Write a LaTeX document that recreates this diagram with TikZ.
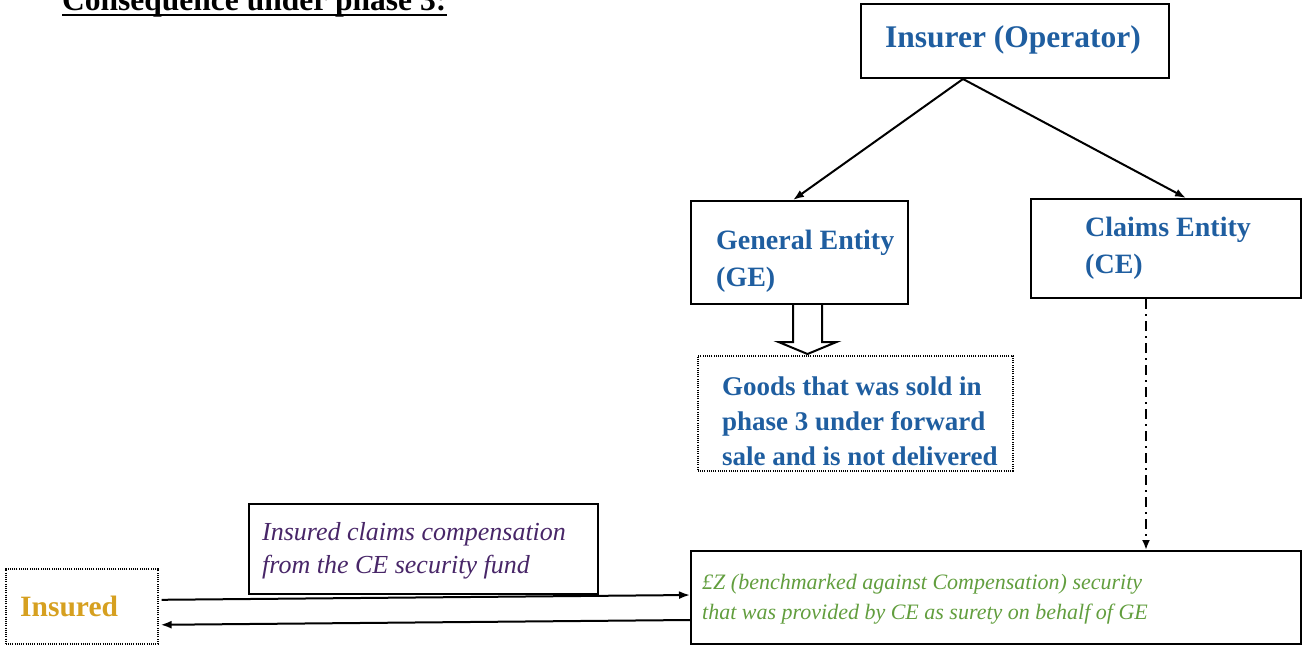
\documentclass[tikz,border=0pt]{standalone}
\usepackage{fontspec}
\setmainfont{Liberation Serif}
\usetikzlibrary{arrows.meta,calc}

\definecolor{entityblue}{RGB}{31,94,160}
\definecolor{insgold}{RGB}{214,160,32}
\definecolor{notepurple}{RGB}{72,38,104}
\definecolor{fundgreen}{RGB}{98,158,62}

\begin{document}
\begin{tikzpicture}[x=1pt,y=-1pt,
  solidbox/.style={draw, line width=2pt, inner sep=0pt, anchor=north west},
  dotbox/.style={draw, line width=1.6pt, dash pattern=on 1pt off 1.2pt, inner sep=0pt, anchor=north west},
  boxtext/.style={inner sep=0pt, anchor=west, align=left},
  entityfont/.style={font=\bfseries\fontsize{28}{37}\selectfont, text=entityblue},
  link/.style={line width=2pt, -{Latex[length=11pt,width=8pt]}},
  flow/.style={line width=2pt, -{Latex[length=11pt,width=8pt]}}]

\useasboundingbox (0,0) rectangle (1309,645);

% heading
\node[inner sep=0pt, anchor=base west, font=\bfseries\fontsize{31.5}{37}\selectfont]
  (title) at (62,10) {Consequence under phase 3:};
\draw[line width=2.8pt] ([yshift=-5pt]title.base west) -- ([yshift=-5pt]title.base east);

% boxes
\node[solidbox, minimum width=308pt, minimum height=74pt] (ins) at (860,3) {};
\node[solidbox, minimum width=217pt, minimum height=103pt] (ge) at (690,200) {};
\node[solidbox, minimum width=270pt, minimum height=99pt] (ce) at (1030,198) {};
\node[dotbox, minimum width=315pt, minimum height=115pt] (goods) at (697,355) {};
\node[solidbox, minimum width=610pt, minimum height=93pt] (fund) at (690,550) {};
\node[dotbox, minimum width=152pt, minimum height=75pt] (insd) at (5,568) {};
\node[solidbox, minimum width=349pt, minimum height=90pt] (note) at (248,503) {};

% box texts
\node[inner sep=0pt, font=\bfseries\fontsize{31.5}{36}\selectfont, text=entityblue]
  (insT) at ([xshift=-2pt,yshift=1pt]ins.center) {Insurer (Operator)};
\node[boxtext, entityfont] (geT) at ([xshift=26pt,yshift=-9pt]ge.west) {General Entity\\(GE)};
\node[boxtext, entityfont] (ceT) at ([xshift=55pt,yshift=0pt]ce.west) {Claims Entity\\(CE)};
\node[boxtext, font=\bfseries\fontsize{27}{35}\selectfont, text=entityblue]
  (goodsT) at ([xshift=25pt,yshift=-8pt]goods.west)
  {Goods that was sold in\\phase 3 under forward\\sale and is not delivered};
\node[boxtext, font=\itshape\fontsize{22}{30}\selectfont, text=fundgreen]
  (fundT) at ([xshift=12pt,yshift=-2pt]fund.west)
  {£Z (benchmarked against Compensation) security\\that was provided by CE as surety on behalf of GE};
\node[boxtext, font=\bfseries\fontsize{29.5}{34}\selectfont, text=insgold]
  (insdT) at ([xshift=15pt]insd.west) {Insured};
\node[boxtext, font=\itshape\fontsize{26}{33}\selectfont, text=notepurple]
  (noteT) at ([xshift=14pt,yshift=-2pt]note.west)
  {Insured claims compensation\\from the CE security fund};

% insurer splits into the two entities
\draw[link] ([xshift=-52pt]ins.south) -- ([xshift=-6.5pt]ge.north);
\draw[link] ([xshift=-52pt]ins.south) -- ([xshift=20pt]ce.north);

% open block arrow from GE to the undelivered goods
\coordinate (gearr) at ([xshift=8pt]ge.south);
\draw[line width=2pt, fill=white, line join=miter]
  ($(gearr)+(-14.5,0)$) -- ($(gearr)+(-14.5,37)$) -- ($(gearr)+(-29,37)$)
  -- ($(gearr)+(0,49)$) -- ($(gearr)+(29,37)$) -- ($(gearr)+(14.5,37)$)
  -- ($(gearr)+(14.5,0)$);

% CE provides the security
\coordinate (cedrop) at ([xshift=-20pt]ce.south);
\draw[line width=2pt, dash pattern=on 10pt off 5pt on 2pt off 5pt,
  -{Latex[length=10pt,width=8pt]}] (cedrop) -- (cedrop |- fund.north);

% claim and payout between insured and the fund
\draw[flow] ([xshift=3pt,yshift=6.5pt]insd.east) -- ([yshift=2.5pt]fund.west);
\draw[flow] ([yshift=-22.5pt]fund.west) -- ([xshift=2pt,yshift=-18.5pt]insd.east);

\end{tikzpicture}
\end{document}
